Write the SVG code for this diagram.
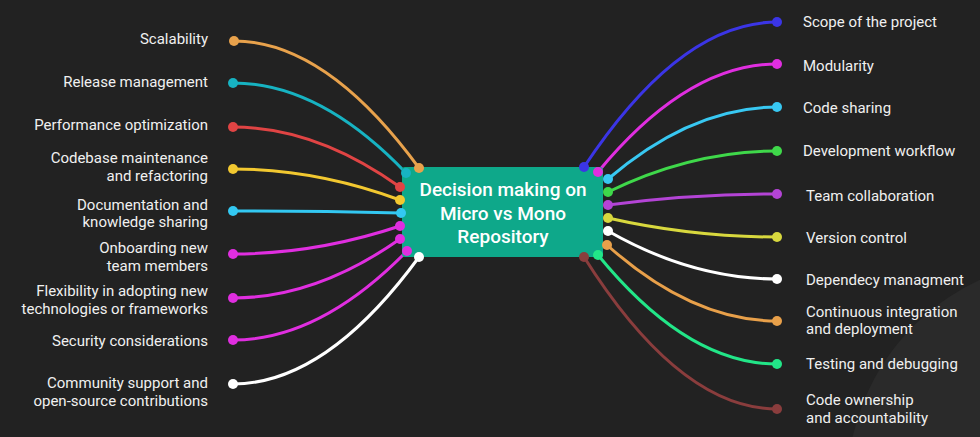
<svg xmlns="http://www.w3.org/2000/svg" width="980" height="437" viewBox="0 0 980 437">
<style>
.lbl{font-family:Roboto,"Liberation Sans",sans-serif;font-size:15px;font-weight:400;fill:#f0f0f0}
.l{text-anchor:end}
.c{fill:none;stroke-width:3;stroke-linecap:round}
.ctr{font-family:Roboto,"Liberation Sans",sans-serif;font-size:19px;font-weight:500;fill:#ffffff;text-anchor:middle}
</style>
<rect width="980" height="437" fill="#222222"/>
<circle cx="1075" cy="487" r="228" fill="#2a2a2a"/>
<g id="connectors">
<path class="c" stroke="#e8a24c" d="M234,41 Q326,41 419,168"/>
<path class="c" stroke="#17b3c2" d="M233,83 Q320,83 406,173"/>
<path class="c" stroke="#e04444" d="M233,127 Q316,127 400,187"/>
<path class="c" stroke="#f2c830" d="M233,169 Q316,169 400,200"/>
<path class="c" stroke="#33c8f2" d="M233,211 Q316,211 401,213"/>
<path class="c" stroke="#e02ee0" d="M233,254 Q316,254 400,226"/>
<path class="c" stroke="#e02ee0" d="M233,298 Q316,298 400,239"/>
<path class="c" stroke="#e02ee0" d="M233,340 Q320,340 407,251"/>
<path class="c" stroke="#ffffff" d="M233,384 Q326,384 419,257"/>
<path class="c" stroke="#3b35e6" d="M777,22 Q680,22 584,167"/>
<path class="c" stroke="#e02ee0" d="M777,64 Q687,64 598,172"/>
<path class="c" stroke="#38c8f2" d="M777,107 Q692,107 608,179"/>
<path class="c" stroke="#3fd84a" d="M777,151 Q692,151 608,192"/>
<path class="c" stroke="#b444d6" d="M777,194 Q692,194 608,205"/>
<path class="c" stroke="#d8d83e" d="M777,237 Q692,237 608,218"/>
<path class="c" stroke="#ffffff" d="M777,279 Q692,279 608,231"/>
<path class="c" stroke="#e8a04a" d="M777,321 Q692,321 607,245"/>
<path class="c" stroke="#22e688" d="M777,364 Q687,364 598,255"/>
<path class="c" stroke="#8a3d3d" d="M777,409 Q680,409 584,257"/>
</g>
<g id="center">
<rect x="402" y="167" width="201" height="90" rx="3" fill="#0ea88a"/>
<text class="ctr" x="503" y="196">Decision making on</text>
<text class="ctr" x="503" y="220">Micro vs Mono</text>
<text class="ctr" x="503" y="243">Repository</text>
</g>
<g id="dots">
<circle cx="234" cy="41" r="5" fill="#e8a24c"/><circle cx="419" cy="168" r="5" fill="#e8a24c"/>
<circle cx="233" cy="83" r="5" fill="#17b3c2"/><circle cx="406" cy="173" r="5" fill="#17b3c2"/>
<circle cx="233" cy="127" r="5" fill="#e04444"/><circle cx="400" cy="187" r="5" fill="#e04444"/>
<circle cx="233" cy="169" r="5" fill="#f2c830"/><circle cx="400" cy="200" r="5" fill="#f2c830"/>
<circle cx="233" cy="211" r="5" fill="#33c8f2"/><circle cx="401" cy="213" r="5" fill="#33c8f2"/>
<circle cx="233" cy="254" r="5" fill="#e02ee0"/><circle cx="400" cy="226" r="5" fill="#e02ee0"/>
<circle cx="233" cy="298" r="5" fill="#e02ee0"/><circle cx="400" cy="239" r="5" fill="#e02ee0"/>
<circle cx="233" cy="340" r="5" fill="#e02ee0"/><circle cx="407" cy="251" r="5" fill="#e02ee0"/>
<circle cx="233" cy="384" r="5" fill="#ffffff"/><circle cx="419" cy="257" r="5" fill="#ffffff"/>
<circle cx="777" cy="22" r="5" fill="#3b35e6"/><circle cx="584" cy="167" r="5" fill="#3b35e6"/>
<circle cx="777" cy="64" r="5" fill="#e02ee0"/><circle cx="598" cy="172" r="5" fill="#e02ee0"/>
<circle cx="777" cy="107" r="5" fill="#38c8f2"/><circle cx="608" cy="179" r="5" fill="#38c8f2"/>
<circle cx="777" cy="151" r="5" fill="#3fd84a"/><circle cx="608" cy="192" r="5" fill="#3fd84a"/>
<circle cx="777" cy="194" r="5" fill="#b444d6"/><circle cx="608" cy="205" r="5" fill="#b444d6"/>
<circle cx="777" cy="237" r="5" fill="#d8d83e"/><circle cx="608" cy="218" r="5" fill="#d8d83e"/>
<circle cx="777" cy="279" r="5" fill="#ffffff"/><circle cx="608" cy="231" r="5" fill="#ffffff"/>
<circle cx="777" cy="321" r="5" fill="#e8a04a"/><circle cx="607" cy="245" r="5" fill="#e8a04a"/>
<circle cx="777" cy="364" r="5" fill="#22e688"/><circle cx="598" cy="255" r="5" fill="#22e688"/>
<circle cx="777" cy="409" r="5" fill="#8a3d3d"/><circle cx="584" cy="257" r="5" fill="#8a3d3d"/>
</g>
<g id="scalability"><text class="lbl l" x="208" y="44">Scalability</text></g>
<g id="release-management"><text class="lbl l" x="208" y="87">Release management</text></g>
<g id="performance-optimization"><text class="lbl l" x="208" y="130">Performance optimization</text></g>
<g id="codebase-maintenance"><text class="lbl l" x="208" y="163">Codebase maintenance</text><text class="lbl l" x="208" y="181">and refactoring</text></g>
<g id="documentation"><text class="lbl l" x="208" y="210">Documentation and</text><text class="lbl l" x="208" y="227">knowledge sharing</text></g>
<g id="onboarding"><text class="lbl l" x="208" y="253">Onboarding new</text><text class="lbl l" x="208" y="271">team members</text></g>
<g id="flexibility"><text class="lbl l" x="208" y="296">Flexibility in adopting new</text><text class="lbl l" x="208" y="314">technologies or frameworks</text></g>
<g id="security"><text class="lbl l" x="208" y="346">Security considerations</text></g>
<g id="community"><text class="lbl l" x="208" y="388">Community support and</text><text class="lbl l" x="208" y="406">open-source contributions</text></g>
<g id="scope"><text class="lbl" x="803" y="27">Scope of the project</text></g>
<g id="modularity"><text class="lbl" x="803" y="71">Modularity</text></g>
<g id="code-sharing"><text class="lbl" x="803" y="113">Code sharing</text></g>
<g id="development-workflow"><text class="lbl" x="803" y="156">Development workflow</text></g>
<g id="team-collaboration"><text class="lbl" x="806" y="201">Team collaboration</text></g>
<g id="version-control"><text class="lbl" x="806" y="243">Version control</text></g>
<g id="dependency-management"><text class="lbl" x="806" y="285">Dependecy managment</text></g>
<g id="ci-cd"><text class="lbl" x="806" y="317">Continuous integration</text><text class="lbl" x="806" y="334">and deployment</text></g>
<g id="testing"><text class="lbl" x="806" y="369">Testing and debugging</text></g>
<g id="code-ownership"><text class="lbl" x="806" y="405">Code ownership</text><text class="lbl" x="806" y="423">and accountability</text></g>
</svg>
